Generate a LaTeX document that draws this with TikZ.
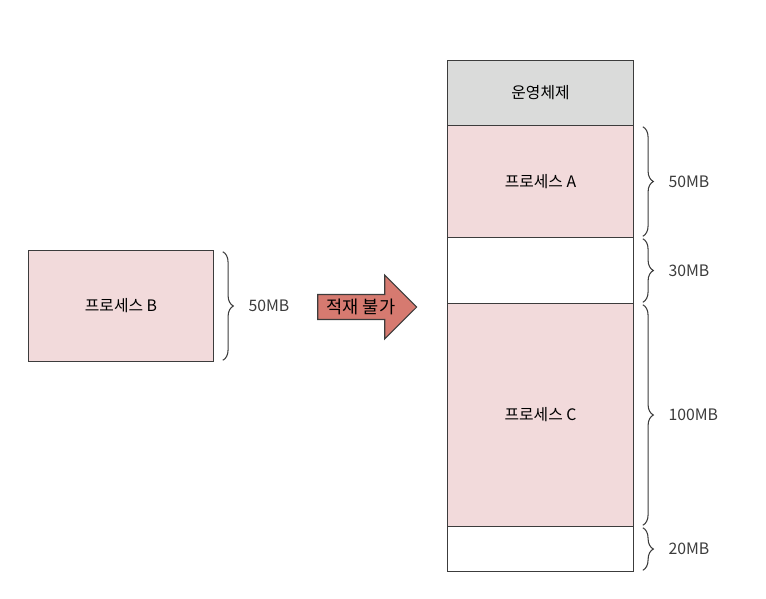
\documentclass[tikz,border=0pt]{standalone}
\usepackage{fontspec}
\setmainfont{Noto Sans CJK KR}
\usepackage{xcolor}
\usetikzlibrary{shapes.arrows,decorations.pathreplacing}
\definecolor{lightpink}{RGB}{242, 218, 219}
\definecolor{lightgray}{RGB}{218, 219, 218}
\definecolor{darkred}{RGB}{214, 122, 112}
\definecolor{edge}{RGB}{60, 60, 60}

\begin{document}
\begin{tikzpicture}[x=0.02cm, y=-0.02cm, font=\fontsize{9}{11}\selectfont]
    \useasboundingbox (0, 0) rectangle (766, 598);
    \tikzset{
        block/.style={draw=edge, line width=0.6pt, anchor=north west, inner sep=0pt, minimum width=3.72cm},
        brc/.style={draw=edge, line width=0.6pt, decorate, decoration={brace, amplitude=6pt}},
        size/.style={right=11pt, text=edge}
    }
    % memory stack
    \node[block, fill=lightgray, minimum height=1.30cm] (os) at (447, 60) {운영체제};
    \node[block, fill=lightpink, minimum height=2.24cm] (pa) at (447, 125) {프로세스 A};
    \node[block, fill=white, minimum height=1.32cm] (f1) at (447, 237) {};
    \node[block, fill=lightpink, minimum height=4.46cm] (pc) at (447, 303) {프로세스 C};
    \node[block, fill=white, minimum height=0.90cm] (f2) at (447, 526) {};
    % process to load
    \node[block, fill=lightpink, minimum width=3.70cm, minimum height=2.22cm] (pb) at (28, 250) {프로세스 B};
    \node[single arrow, draw=edge, line width=0.6pt, fill=darkred, minimum height=1.98cm, minimum width=1.28cm,
          single arrow head extend=0.32cm, inner sep=1pt, font=\fontsize{10}{11}\selectfont] (ar) at (361, 307) {적재 불가};
    % braces
    \draw[brc] ([xshift=5pt, yshift=-1pt]pa.north east) -- ([xshift=5pt, yshift=1pt]pa.south east) node[midway, size] (sa) {50MB};
    \draw[brc] ([xshift=5pt, yshift=-1pt]f1.north east) -- ([xshift=5pt, yshift=1pt]f1.south east) node[midway, size] (s1) {30MB};
    \draw[brc] ([xshift=5pt, yshift=-1pt]pc.north east) -- ([xshift=5pt, yshift=1pt]pc.south east) node[midway, size] (sc) {100MB};
    \draw[brc] ([xshift=5pt, yshift=-1pt]f2.north east) -- ([xshift=5pt, yshift=1pt]f2.south east) node[midway, size] (s2) {20MB};
    \draw[brc] ([xshift=5pt, yshift=-1pt]pb.north east) -- ([xshift=5pt, yshift=1pt]pb.south east) node[midway, size] (sb) {50MB};
\end{tikzpicture}
\end{document}
